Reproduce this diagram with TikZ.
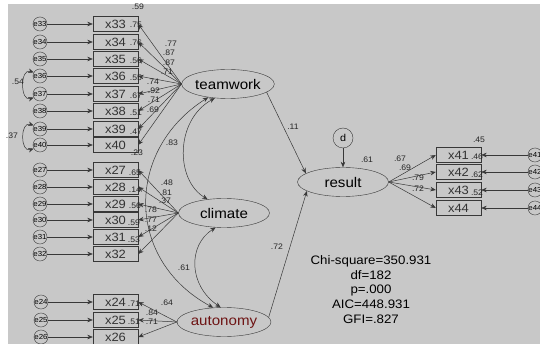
\documentclass[tikz,border=0pt]{standalone}
\usepackage{fontspec}
\setmainfont[FakeStretch=1.08]{Liberation Sans}
\usetikzlibrary{shapes.geometric, arrows.meta}
\definecolor{amosbg}{HTML}{C8C8C8}
\definecolor{ink}{HTML}{383838}
\definecolor{darkred}{HTML}{6E1414}

\begin{document}
\begin{tikzpicture}[x=1pt, y=-1pt,
    obs/.style={draw=ink, minimum width=45pt, minimum height=15pt, inner sep=0pt, text=black!80, font=\fontsize{12}{13}\selectfont},
    lat/.style={draw=ink, ellipse, minimum width=91pt, minimum height=29pt, inner sep=0pt, font=\fontsize{14}{16}\selectfont},
    err/.style={draw=ink, circle, minimum size=14pt, inner sep=0pt, font=\fontsize{7.3}{8}\selectfont},
    arrow/.style={->, >={Stealth[length=5.5pt, width=4.5pt]}, draw=ink, line width=0.5pt},
    coef/.style={inner sep=0pt, text=black!85, font=\fontsize{8}{9}\selectfont}
]
    % canvas
    \fill[white] (0,0) rectangle (540,344);
    \fill[amosbg] (8,4) rectangle (540,344);
    \useasboundingbox (0,0) rectangle (540,344);

    % latent variables
    \node[lat] (teamwork) at (228,84) {teamwork};
    \node[lat] (climate) at (224,213) {climate};
    \node[lat, text=darkred] (autonomy) at (224,322) {autonomy};
    \node[lat] (result) at (343,182) {result};
    \node[err, minimum size=20pt, font=\fontsize{10}{11}\selectfont] (d) at (343,138) {d};

    % teamwork indicators
    \node[obs] (x33) at (115.5,24) {x33};  \node[err] (e33) at (40,24) {e33};
    \node[obs] (x34) at (115.5,42) {x34};  \node[err] (e34) at (40,42) {e34};
    \node[obs] (x35) at (115.5,59) {x35};  \node[err] (e35) at (40,59) {e35};
    \node[obs] (x36) at (115.5,76) {x36};  \node[err] (e36) at (40,76) {e36};
    \node[obs] (x37) at (115.5,94) {x37};  \node[err] (e37) at (40,94) {e37};
    \node[obs] (x38) at (115.5,111) {x38}; \node[err] (e38) at (40,111) {e38};
    \node[obs] (x39) at (115.5,129) {x39}; \node[err] (e39) at (40,129) {e39};
    \node[obs] (x40) at (115.5,145) {x40}; \node[err] (e40) at (40,145) {e40};

    % climate indicators
    \node[obs] (x27) at (115.5,170) {x27}; \node[err] (e27) at (40,170) {e27};
    \node[obs] (x28) at (115.5,187) {x28}; \node[err] (e28) at (40,187) {e28};
    \node[obs] (x29) at (115.5,204) {x29}; \node[err] (e29) at (40,204) {e29};
    \node[obs] (x30) at (115.5,220) {x30}; \node[err] (e30) at (40,220) {e30};
    \node[obs] (x31) at (115.5,237) {x31}; \node[err] (e31) at (40,237) {e31};
    \node[obs] (x32) at (115.5,254) {x32}; \node[err] (e32) at (40,254) {e32};

    % autonomy indicators
    \node[obs] (x24) at (115.5,302) {x24}; \node[err] (e24) at (41,302) {e24};
    \node[obs] (x25) at (115.5,320) {x25}; \node[err] (e25) at (41,320) {e25};
    \node[obs] (x26) at (115.5,337) {x26}; \node[err] (e26) at (41,337) {e26};

    % result indicators
    \node[obs] (x41) at (458.5,155) {x41}; \node[err] (e41) at (535,155) {e41};
    \node[obs] (x42) at (458.5,172) {x42}; \node[err] (e42) at (535,172) {e42};
    \node[obs] (x43) at (458.5,190) {x43}; \node[err] (e43) at (535,190) {e43};
    \node[obs] (x44) at (458.5,208) {x44}; \node[err] (e44) at (535,208) {e44};

    % squared multiple correlations
    \node[coef] (r33) at (138,7) {.59};
    \node[coef] (r34) at (136,25) {.75};
    \node[coef] (r35) at (136,43) {.76};
    \node[coef] (r36) at (136,61) {.56};
    \node[coef] (r37) at (136,78) {.55};
    \node[coef] (r38) at (136,96) {.67};
    \node[coef] (r39) at (136,113) {.51};
    \node[coef] (r40) at (136,132) {.47};
    \node[coef] (r41) at (137,153) {.23};
    \node[coef] (r27) at (135,173) {.65};
    \node[coef] (r28) at (135,190) {.14};
    \node[coef] (r29) at (135,206) {.56};
    \node[coef] (r30) at (134,223) {.59};
    \node[coef] (r31) at (134,240) {.53};
    \node[coef] (r24) at (134,304) {.71};
    \node[coef] (r25) at (134,322) {.51};
    \node[coef] (q41) at (479,140) {.45};
    \node[coef] (q42) at (477,157) {.46};
    \node[coef] (q43) at (477,175) {.62};
    \node[coef] (q44) at (477,193) {.52};
    \node[coef] (rres) at (367,160) {.61};

    % measurement paths
    \foreach \i in {33,...,40} {
        \draw[arrow] (e\i) -- (x\i);
        \draw[arrow] (teamwork.west) -- (x\i.east);
    }
    \foreach \i in {27,...,32} {
        \draw[arrow] (e\i) -- (x\i);
        \draw[arrow] (climate.west) -- (x\i.east);
    }
    \foreach \i in {24,25,26} {
        \draw[arrow] (e\i) -- (x\i);
        \draw[arrow] (autonomy.west) -- (x\i.east);
    }
    \foreach \i in {41,...,44} {
        \draw[arrow] (e\i) -- (x\i);
        \draw[arrow] (result.east) -- (x\i.west);
    }

    % error covariances
    \draw[arrow, <->] (e36.150) .. controls (20,68) and (20,102) .. (e37.210);
    \draw[arrow, <->] (e39.150) .. controls (20,121) and (20,153) .. (e40.210);
    \node[coef] (c1) at (18,82) {.54};
    \node[coef] (c2) at (12,136) {.37};

    % factor covariances
    \draw[arrow, <->] (teamwork.214) .. controls (125,150) and (125,260) .. (autonomy.127);
    \draw[arrow, <->] (teamwork.227) .. controls (175,120) and (175,180) .. (climate.140);
    \draw[arrow, <->] (climate.240) .. controls (188,245) and (188,285) .. (autonomy.103);
    \node[coef] (c3) at (172,143) {.83};
    \node[coef] (c4) at (184,268) {.61};

    % structural paths
    \draw[arrow] (teamwork.-12) -- (result.167);
    \draw[arrow] (autonomy.6) -- (result.194);
    \draw[arrow] (d) -- (result);
    \node[coef] (b1) at (293,127) {.11};
    \node[coef] (b2) at (277,247) {.72};

    % loadings
    \node[coef] (w33) at (171,44) {.77};
    \node[coef] (w34) at (169,53) {.87};
    \node[coef] (w35) at (169,63) {.87};
    \node[coef] (w36) at (167,72) {.71};
    \node[coef] (w37) at (153,82) {.74};
    \node[coef] (w38) at (154,91) {.92};
    \node[coef] (w39) at (154,100) {.71};
    \node[coef] (w40) at (153,110) {.69};
    \node[coef] (w27) at (167,183) {.48};
    \node[coef] (w28) at (166,193) {.81};
    \node[coef] (w29) at (165,201) {.37};
    \node[coef] (w30) at (151,210) {.78};
    \node[coef] (w31) at (151,220) {.77};
    \node[coef] (w32) at (151,229) {.12};
    \node[coef] (w24) at (167,303) {.64};
    \node[coef] (w25) at (152,313) {.84};
    \node[coef] (w26) at (152,322) {.71};
    \node[coef] (w41) at (400,159) {.67};
    \node[coef] (w42) at (405,168) {.69};
    \node[coef] (w43) at (418,178) {.79};
    \node[coef] (w44) at (418,189) {.72};

    % fit indices
    \node[align=center, inner sep=0pt, font=\fontsize{12.3}{14.8}\selectfont] (fit) at (371,289.5)
        {Chi-square=350.931\\df=182\\p=.000\\AIC=448.931\\GFI=.827};
\end{tikzpicture}
\end{document}
